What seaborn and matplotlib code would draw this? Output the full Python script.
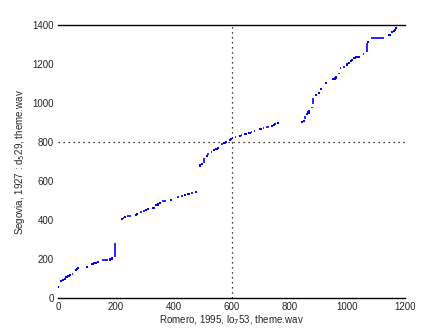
import matplotlib
matplotlib.use("Agg")
import matplotlib.pyplot as plt
import seaborn as sns
import pandas as pd

# Q-Q style dots (x: Romero 1995, y: Segovia 1927)
pt_x = [1, 11, 17, 23, 29, 36, 41, 61, 65, 68, 101, 119, 126, 132, 139, 179, 188,
        220, 233, 271, 274, 305, 312, 330, 340, 347, 354, 392, 440, 451, 478,
        492, 499, 514, 540, 548, 554, 576, 582, 595, 598, 629, 648, 662, 700, 740, 746, 751, 761,
        845, 851, 862, 866, 869, 893, 903, 910, 928, 952, 959, 962, 1000, 1006, 1012, 1018,
        1025, 1032, 1040, 1073, 1146, 1156, 1162, 1166, 1170]
pt_y = [55, 86, 92, 99, 106, 113, 118, 142, 147, 152, 157, 173, 178, 181, 186, 198, 203,
        404, 414, 426, 429, 450, 455, 460, 475, 480, 486, 501, 527, 532, 542,
        680, 687, 728, 757, 764, 771, 793, 798, 810, 817, 831, 841, 846, 867, 882, 887, 892, 897,
        901, 906, 942, 951, 956, 1039, 1050, 1070, 1101, 1121, 1126, 1131, 1197, 1207, 1214, 1222,
        1229, 1234, 1237, 1311, 1347, 1362, 1369, 1376, 1383]

# horizontal runs of repeated values
run_x0 = [47, 152, 224, 240, 284, 295, 361, 413, 426, 461, 529, 564, 602, 611, 633, 668, 679, 708, 720, 976, 987, 1053, 1082]
run_x1 = [52, 172, 228, 251, 290, 300, 372, 418, 431, 466, 533, 569, 605, 614, 637, 672, 682, 712, 731, 980, 991, 1057, 1126]
run_y = [123, 193, 409, 419, 440, 445, 496, 516, 521, 537, 747, 788, 821, 826, 836, 851, 856, 872, 877, 1178, 1183, 1250, 1332]

# vertical runs
vrun_x = [198, 506, 519, 855, 879, 883, 973, 1000, 1070]
vrun_y0 = [212, 690, 733, 920, 973, 994, 1151, 1193, 1261]
vrun_y1 = [280, 716, 744, 932, 979, 1024, 1156, 1198, 1306]

x_ticks = [0, 200, 400, 600, 800, 1000, 1200]
y_ticks = [0, 200, 400, 600, 800, 1000, 1200, 1400]
cross_x = 600
cross_y = 800

sns.set_style("white")
plt.rcParams['font.family'] = ['Liberation Sans', 'DejaVu Sans']

fig = plt.figure(figsize=(4.47, 3.35), dpi=100)
ax = fig.add_axes([0.1298, 0.1104, 0.7763, 0.8150])

blue = "#0000ff"
df = pd.DataFrame({"x": pt_x, "y": pt_y})
sns.scatterplot(data=df, x="x", y="y", ax=ax, marker="s", s=2.5, color=blue,
                edgecolor="none", linewidth=0, zorder=3)
ax.hlines(run_y, run_x0, run_x1, color=blue, linewidth=1.2, zorder=3)
ax.vlines(vrun_x, vrun_y0, vrun_y1, color=blue, linewidth=1.2, zorder=3)

ax.axvline(cross_x, color="black", linestyle=(0, (1, 3)), linewidth=0.9, zorder=2)
ax.axhline(cross_y, color="black", linestyle=(0, (1, 3)), linewidth=0.9, zorder=2)

ax.set_xlim(0, 1200)
ax.set_ylim(0, 1400)
ax.set_xticks(x_ticks)
ax.set_yticks(y_ticks)
ax.tick_params(length=0, labelsize=7, pad=3)
for s in ["left", "right"]:
    ax.spines[s].set_visible(False)
for s in ["top", "bottom"]:
    ax.spines[s].set_color("black")
    ax.spines[s].set_linewidth(1.0)

ax.set_xlabel("Romero, 1995, lo$_7$53, theme.wav", fontsize=7, labelpad=1)
ax.set_ylabel("Segovia, 1927 : d$_5$29, theme.wav", fontsize=7, labelpad=4)

fig.savefig("out.png", dpi=100)
